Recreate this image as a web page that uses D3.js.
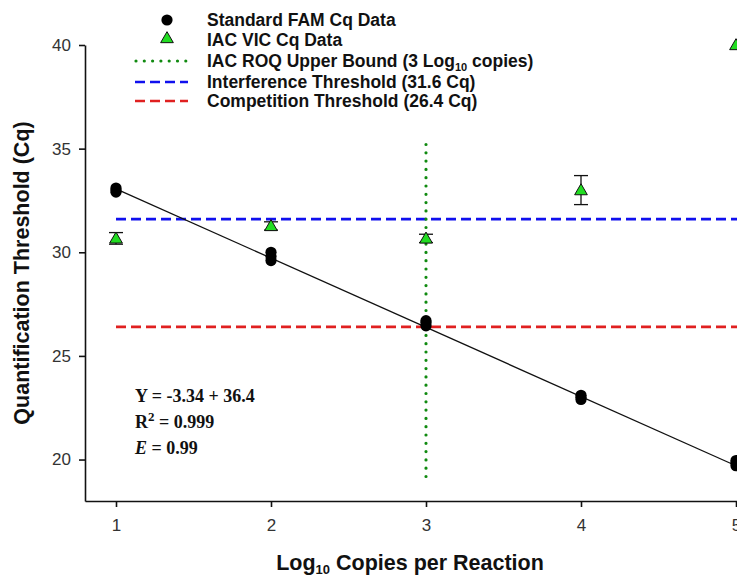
<!DOCTYPE html>
<html>
<head>
<meta charset="utf-8">
<script src="https://cdn.jsdelivr.net/npm/d3@7"></script>
<style>
  body { margin: 0; background: #fff; }
  svg { display: block; }
</style>
</head>
<body>
<div id="viz"></div>
<script>
var width = 737
var height = 577

// data
var famLog = [1, 1, 1, 2, 2, 2, 3, 3, 3, 4, 4, 4, 5, 5, 5];
var famCq = [32.9, 33.0, 33.1, 29.6, 29.8, 30.0, 26.45, 26.6, 26.7, 22.9, 23.0, 23.1, 19.7, 19.85, 19.95];
var iacLog = [1, 2, 3, 4, 5];
var iacCq = [30.67, 31.27, 30.67, 33.0, 40.0];
var iacErr = [0.28, 0.2, 0.2, 0.7, 0];
var fitSlope = -3.34, fitIntercept = 36.4;
var interference = 31.6, competition = 26.4;
var roqLog = 3, roqRange = [19.0, 35.2];
var xTicks = [1, 2, 3, 4, 5];
var yTicks = [20, 25, 30, 35, 40];

var svg = d3.select("#viz")
  .append("svg")
    .attr("width", width)
    .attr("height", height)
    .style("font-family", "Arial, 'Liberation Sans', sans-serif");

// x runs past the right edge, figure is cropped there
var x = d3.scaleLinear().domain([0.8, 5.2]).range([85, 767]);
var y = d3.scaleLinear().domain([18, 40]).range([501, 45]);

// axes
svg.append("g")
  .attr("transform", "translate(0," + y(18) + ")")
  .call(d3.axisBottom(x).tickValues(xTicks).tickFormat(d3.format("d")).tickSize(6).tickSizeOuter(0).tickPadding(12));
svg.append("g")
  .attr("transform", "translate(" + x(0.8) + ",0)")
  .call(d3.axisLeft(y).tickValues(yTicks).tickSize(6).tickSizeOuter(0).tickPadding(8));
svg.selectAll(".tick text").style("font-size", "17px").attr("fill", "#333").style("font-family", "Arial, 'Liberation Sans', sans-serif");
svg.selectAll(".domain, .tick line").attr("stroke", "#111").attr("stroke-width", 1.6);

// axis titles
svg.append("text")
  .attr("transform", "translate(29," + ((y(18) + y(40)) / 2) + ") rotate(-90)")
  .attr("text-anchor", "middle")
  .style("font-size", "21.5px").style("font-weight", "bold").attr("fill", "#111")
  .text("Quantification Threshold (Cq)");

var xt = svg.append("text")
  .attr("x", 410).attr("y", 570)
  .attr("text-anchor", "middle").attr("fill", "#111")
  .style("font-size", "21.5px").style("font-weight", "bold");
xt.append("tspan").text("Log");
xt.append("tspan").attr("dy", 4).style("font-size", "13px").text("10");
xt.append("tspan").attr("dy", -4).text(" Copies per Reaction");

// threshold lines
svg.append("line")
  .attr("x1", x(1)).attr("x2", width)
  .attr("y1", y(interference)).attr("y2", y(interference))
  .attr("stroke", "#1010ee").attr("stroke-width", 2.6).attr("stroke-dasharray", "10,5");
svg.append("line")
  .attr("x1", x(1)).attr("x2", width)
  .attr("y1", y(competition)).attr("y2", y(competition))
  .attr("stroke", "#e02020").attr("stroke-width", 2.6).attr("stroke-dasharray", "10,5");
svg.append("line")
  .attr("x1", x(roqLog)).attr("x2", x(roqLog))
  .attr("y1", y(roqRange[1])).attr("y2", y(roqRange[0]))
  .attr("stroke", "#108a10").attr("stroke-width", 3.2)
  .attr("stroke-linecap", "round").attr("stroke-dasharray", "0,8.3");

// regression line
svg.append("line")
  .attr("x1", x(1)).attr("x2", x(5))
  .attr("y1", y(fitSlope * 1 + fitIntercept)).attr("y2", y(fitSlope * 5 + fitIntercept))
  .attr("stroke", "#111").attr("stroke-width", 1.3);

// FAM points
svg.append("g")
  .selectAll("circle")
  .data(famLog)
  .enter().append("circle")
    .attr("cx", function(d) { return x(d); })
    .attr("cy", function(d, i) { return y(famCq[i]); })
    .attr("r", 5.6)
    .attr("fill", "#000");

// IAC error bars + triangles
var tri = d3.symbol().type(d3.symbolTriangle).size(70);
var iac = svg.append("g")
  .selectAll("g")
  .data(iacLog)
  .enter().append("g");
iac.each(function(d, i) {
  if (iacErr[i] <= 0) return;
  var g = d3.select(this);
  var cx = x(d), lo = y(iacCq[i] - iacErr[i]), hi = y(iacCq[i] + iacErr[i]);
  g.append("line").attr("x1", cx).attr("x2", cx).attr("y1", lo).attr("y2", hi);
  g.append("line").attr("x1", cx - 7).attr("x2", cx + 7).attr("y1", lo).attr("y2", lo);
  g.append("line").attr("x1", cx - 7).attr("x2", cx + 7).attr("y1", hi).attr("y2", hi);
  g.selectAll("line").attr("stroke", "#111").attr("stroke-width", 1.3);
});
iac.append("path")
  .attr("d", tri)
  .attr("transform", function(d, i) { return "translate(" + x(d) + "," + (y(iacCq[i]) + 1) + ")"; })
  .attr("fill", "#22dd22").attr("stroke", "#111").attr("stroke-width", 1);

// legend
var legend = svg.append("g").style("font-size", "17.5px").style("font-weight", "bold").attr("fill", "#111");
var legRows = [20, 40, 61, 82, 101];
legend.append("circle").attr("cx", 167).attr("cy", legRows[0]).attr("r", 5.6).attr("fill", "#000");
legend.append("path").attr("d", tri).attr("transform", "translate(167," + (legRows[1] - 1) + ")")
  .attr("fill", "#22dd22").attr("stroke", "#111").attr("stroke-width", 1);
legend.append("line").attr("x1", 136).attr("x2", 190).attr("y1", legRows[2]).attr("y2", legRows[2])
  .attr("stroke", "#108a10").attr("stroke-width", 3.2).attr("stroke-linecap", "round").attr("stroke-dasharray", "0,8.3");
legend.append("line").attr("x1", 135).attr("x2", 188).attr("y1", legRows[3]).attr("y2", legRows[3])
  .attr("stroke", "#1010ee").attr("stroke-width", 2.6).attr("stroke-dasharray", "10,5");
legend.append("line").attr("x1", 135).attr("x2", 188).attr("y1", legRows[4]).attr("y2", legRows[4])
  .attr("stroke", "#e02020").attr("stroke-width", 2.6).attr("stroke-dasharray", "10,5");

legend.append("text").attr("x", 207).attr("y", legRows[0] + 6).text("Standard FAM Cq Data");
legend.append("text").attr("x", 207).attr("y", legRows[1] + 6).text("IAC VIC Cq Data");
var roqText = legend.append("text").attr("x", 207).attr("y", legRows[2] + 6);
roqText.append("tspan").text("IAC ROQ Upper Bound (3 Log");
roqText.append("tspan").attr("dy", 4).style("font-size", "11px").text("10");
roqText.append("tspan").attr("dy", -4).text(" copies)");
legend.append("text").attr("x", 207).attr("y", legRows[3] + 6).text("Interference Threshold (31.6 Cq)");
legend.append("text").attr("x", 207).attr("y", legRows[4] + 6).text("Competition Threshold (26.4 Cq)");

// fit annotation
var ann = svg.append("g")
  .style("font-family", "'Liberation Serif', 'Times New Roman', serif")
  .style("font-size", "18px").style("font-weight", "bold").attr("fill", "#111");
ann.append("text").attr("x", 135).attr("y", 402).text("Y = -3.34 + 36.4");
var r2 = ann.append("text").attr("x", 135).attr("y", 428);
r2.append("tspan").text("R");
r2.append("tspan").attr("dy", -7).style("font-size", "13px").text("2");
r2.append("tspan").attr("dy", 7).text(" = 0.999");
var et = ann.append("text").attr("x", 135).attr("y", 454);
et.append("tspan").style("font-style", "italic").text("E");
et.append("tspan").text(" = 0.99");
</script>
</body>
</html>
